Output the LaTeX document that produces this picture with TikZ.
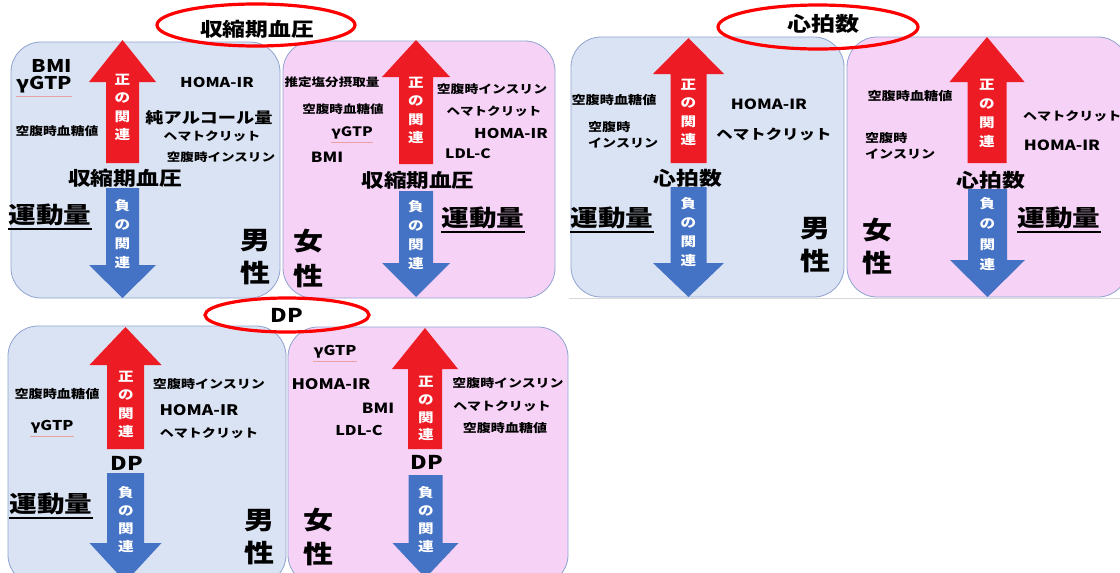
\documentclass[tikz,border=0pt]{standalone}
\usepackage{fontspec}
\setmainfont{Noto Sans CJK JP}[FakeStretch=1.2]
\usetikzlibrary{shapes.geometric}
\definecolor{pblue}{HTML}{DAE3F3}
\definecolor{ppink}{HTML}{F7D2F7}
\definecolor{pedge}{HTML}{8FA3D0}
\definecolor{ared}{HTML}{ED1C24}
\definecolor{ablue}{HTML}{4472C4}
\definecolor{ered}{HTML}{FF0000}
\definecolor{sq}{HTML}{E8A0A0}
\newcommand\fsz[1]{\fontsize{#1}{#1}\selectfont}
% up arrow: cx, tip, headbase, bottom, halfhead, halfshaft
\newcommand\myUp[6]{\fill[ared] (#1,#2) -- ({#1+#5},#3) -- ({#1+#6},#3) -- ({#1+#6},#4) -- ({#1-#6},#4) -- ({#1-#6},#3) -- ({#1-#5},#3) -- cycle;}
% down arrow: cx, top, headbase, tip, halfhead, halfshaft
\newcommand\myDown[6]{\fill[ablue] ({#1-#6},#2) -- ({#1+#6},#2) -- ({#1+#6},#3) -- ({#1+#5},#3) -- (#1,#4) -- ({#1-#5},#3) -- ({#1-#6},#3) -- cycle;}
\tikzset{
  panelm/.style={fill=pblue, draw=pedge, line width=0.8pt, rounded corners=30pt},
  panelf/.style={fill=ppink, draw=pedge, line width=0.8pt, rounded corners=30pt},
  lbl/.style={inner sep=0pt, font=\bfseries\fsz{#1}},
  lbll/.style={inner sep=0pt, align=left, font=\bfseries\fontsize{#1}{16}\selectfont},
  arrtxt/.style={inner sep=0pt, text=white, align=center, font=\bfseries\fontsize{13}{#1}\selectfont},
  sextxt/.style={inner sep=0pt, align=center, font=\bfseries\fontsize{25}{#1}\selectfont},
  ring/.style={ellipse, draw=ered, line width=3.2pt, inner sep=0pt},
  uline/.style={line width=1.4pt},
  squig/.style={draw=sq, line width=0.6pt}
}
\begin{document}
\begin{tikzpicture}[x=1pt,y=-1pt]
\useasboundingbox (0,0) rectangle (1120,573);
\clip (0,0) rectangle (1120,573);
\fill[white] (0,0) rectangle (1120,573);
% faint separator line
\draw[black!15, line width=0.6pt] (569,298) -- (1120,298);
% panels
\draw[panelm] (11,42) rectangle (280,298);
\draw[panelf] (283,41) rectangle (555,298);
\draw[panelm] (571,37) rectangle (844,297);
\draw[panelf] (847,37) rectangle (1128,297);
\draw[panelm] (8,326) rectangle (286,585);
\draw[panelf] (288,327) rectangle (568,585);
% arrows
\myUp{122.5}{40}{82}{163}{33.5}{16.5}
\myDown{122.5}{188}{265}{298}{33.5}{16.5}
\myUp{416}{40}{77}{164}{34}{17}
\myDown{416}{191}{263}{297}{34}{17}
\myUp{688.5}{38}{74}{163}{35.5}{18}
\myDown{688.5}{187}{263}{297}{35.5}{18}
\myUp{987}{37}{82}{163}{37.5}{19.5}
\myDown{987.5}{189}{260}{297}{37.5}{19.5}
\myUp{125.5}{327}{365}{449}{36}{18.5}
\myDown{125.5}{473}{543}{582}{36}{18.5}
\myUp{425}{328}{369}{449}{33}{17}
\myDown{425.5}{475}{543}{578}{33}{17}

% ---------- panel 1 : male SBP ----------
\node[lbl=17.5] (a1) at (52,66) {BMI};
\node[lbl=17.5] (a2) at (44,85) {γGTP};
\draw[squig] ([yshift=-3pt]a2.south west) -- ([yshift=-3pt]a2.south east);
\node[lbl=11.5] (a3) at (57,131) {空腹時血糖値};
\node[lbl=13.5] (a4) at (217,82) {HOMA-IR};
\node[lbl=15.2] (a5) at (209,118) {純アルコール量};
\node[lbl=11.5] (a6) at (212,136) {ヘマトクリット};
\node[lbl=11.3] (a7) at (221,157) {空腹時インスリン};
\node[lbl=19] (a8) at (125,178) {収縮期血圧};
\node[lbl=23] (a9) at (50,215) {運動量};
\draw[uline] ([yshift=-3pt]a9.south west) -- ([yshift=-3pt]a9.south east);
\node[sextxt=33] (a10) at (255,257) {男\\性};
\node[arrtxt=18.3] (a11) at (122.5,107.5) {正\\の\\関\\連};
\node[arrtxt=19] (a12) at (122.5,233.5) {負\\の\\関\\連};

% ---------- panel 2 : female SBP ----------
\node[lbl=11.3] (b1) at (332,82) {推定塩分摂取量};
\node[lbl=11.3] (b2) at (343,109) {空腹時血糖値};
\node[lbl=13] (b3) at (352,133) {γGTP};
\draw[squig] ([yshift=-3pt]b3.south west) -- ([yshift=-3pt]b3.south east);
\node[lbl=14] (b4) at (327,157) {BMI};
\node[lbl=11.5] (b5) at (492,89) {空腹時インスリン};
\node[lbl=11.3] (b6) at (494,111) {ヘマトクリット};
\node[lbl=13.5] (b7) at (511,133) {HOMA-IR};
\node[lbl=13] (b8) at (468,154) {LDL-C};
\node[lbl=18.8] (b9) at (418,180) {収縮期血圧};
\node[lbl=23] (b10) at (483,218) {運動量};
\draw[uline] ([yshift=-3pt]b10.south west) -- ([yshift=-3pt]b10.south east);
\node[sextxt=35] (b11) at (308,258) {女\\性};
\node[arrtxt=18.3] (b12) at (416,110.5) {正\\の\\関\\連};
\node[arrtxt=18.7] (b13) at (416,235) {負\\の\\関\\連};

% ---------- panel 3 : male HR ----------
\node[lbl=11.8] (c1) at (614,100) {空腹時血糖値};
\node[lbll=11.7, anchor=west] (c2) at (588,135) {空腹時\\インスリン};
\node[lbl=14] (c3) at (769,104) {HOMA-IR};
\node[lbl=13.7] (c4) at (774,134) {ヘマトクリット};
\node[lbl=19] (c5) at (688,178) {心拍数};
\node[lbl=23] (c6) at (612,218) {運動量};
\draw[uline] ([yshift=-3pt]c6.south west) -- ([yshift=-3pt]c6.south east);
\node[sextxt=33] (c7) at (815,245) {男\\性};
\node[arrtxt=18.3] (c8) at (688.5,112.5) {正\\の\\関\\連};
\node[arrtxt=19] (c9) at (688.5,232) {負\\の\\関\\連};

% ---------- panel 4 : female HR ----------
\node[lbl=11.8] (d1) at (910,96) {空腹時血糖値};
\node[lbll=11.7, anchor=west] (d2) at (865,146) {空腹時\\インスリン};
\node[lbl=11.7, anchor=west] (d3) at (1023,116) {ヘマトクリット};
\node[lbl=14] (d4) at (1062,145) {HOMA-IR};
\node[lbl=19] (d5) at (991,180) {心拍数};
\node[lbl=23] (d6) at (1059,218) {運動量};
\draw[uline] ([yshift=-3pt]d6.south west) -- ([yshift=-3pt]d6.south east);
\node[sextxt=33] (d7) at (877,246.5) {女\\性};
\node[arrtxt=19] (d8) at (987,113.5) {正\\の\\関\\連};
\node[arrtxt=20.5] (d9) at (987.5,234) {負\\の\\関\\連};

% ---------- panel 5 : male DP ----------
\node[lbl=11.8] (e1) at (57,394) {空腹時血糖値};
\node[lbl=13.5] (e2) at (52,427) {γGTP};
\draw[squig] ([yshift=-3pt]e2.south west) -- ([yshift=-3pt]e2.south east);
\node[lbl=11.7] (e3) at (209,384) {空腹時インスリン};
\node[lbl=14.5] (e4) at (199,410) {HOMA-IR};
\node[lbl=11.7] (e5) at (209,433) {ヘマトクリット};
\node[lbl=19] (e6) at (127,463) {DP};
\node[lbl=23] (e7) at (51,504) {運動量};
\draw[uline] ([yshift=-3pt]e7.south west) -- ([yshift=-3pt]e7.south east);
\node[sextxt=33.5] (e8) at (259,537) {男\\性};
\node[arrtxt=18.3] (e9) at (126,404.5) {正\\の\\関\\連};
\node[arrtxt=18.3] (e10) at (126,519.5) {負\\の\\関\\連};

% ---------- panel 6 : female DP ----------
\node[lbl=13.5] (f1) at (335,352) {γGTP};
\draw[squig] ([yshift=-3pt]f1.south west) -- ([yshift=-3pt]f1.south east);
\node[lbl=14.5] (f2) at (331,384) {HOMA-IR};
\node[lbl=14] (f3) at (378,408) {BMI};
\node[lbl=13.5] (f4) at (359,430) {LDL-C};
\node[lbl=11.6] (f5) at (508,383) {空腹時インスリン};
\node[lbl=11.6] (f6) at (502,406) {ヘマトクリット};
\node[lbl=11.7] (f7) at (505,428) {空腹時血糖値};
\node[lbl=19] (f8) at (427,462) {DP};
\node[sextxt=34.5] (f9) at (318,537) {女\\性};
\node[arrtxt=17.8] (f10) at (426,408.5) {正\\の\\関\\連};
\node[arrtxt=18.3] (f11) at (426,519.5) {負\\の\\関\\連};

% ---------- title rings ----------
\node[ring, minimum width=198pt, minimum height=42pt] (r1) at (256,25) {};
\node[lbl=19] (t1) at (257,29) {収縮期血圧};
\node[ring, minimum width=200pt, minimum height=44pt] (r2) at (818,27) {};
\node[lbl=20] (t2) at (823,24) {心拍数};
\node[ring, minimum width=164pt, minimum height=34pt] (r3) at (287,315) {};
\node[lbl=19] (t3) at (287,315) {DP};
\end{tikzpicture}
\end{document}
